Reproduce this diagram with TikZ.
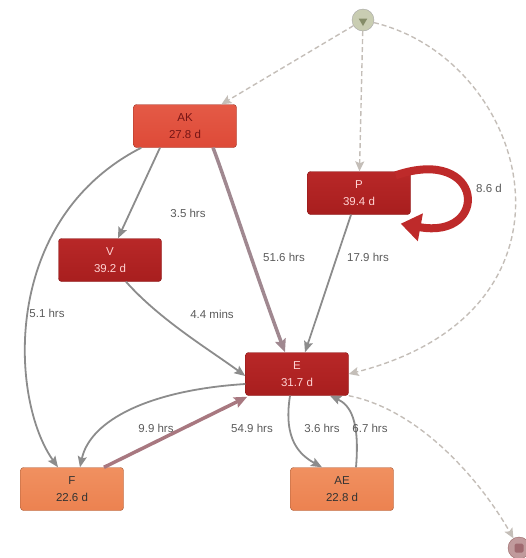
\documentclass[tikz,border=0pt]{standalone}
\usepackage{fontspec}
\setmainfont{Liberation Sans}
\usetikzlibrary{arrows.meta,calc,shapes.geometric}
\definecolor{darkred}{HTML}{A81E1E}
\definecolor{darkredtop}{HTML}{B82828}
\definecolor{akred}{HTML}{DE4A38}
\definecolor{akredtop}{HTML}{E45A46}
\definecolor{orangebox}{HTML}{EC8250}
\definecolor{orangetop}{HTML}{F09060}
\definecolor{edgegray}{HTML}{8C8C8C}
\definecolor{dashgray}{HTML}{C4BEB8}
\definecolor{lblgray}{HTML}{5A5A5A}
\definecolor{thickedge}{HTML}{A08890}
\definecolor{fedge}{HTML}{A87880}
\definecolor{loopred}{HTML}{BE2A2A}
\definecolor{startfill}{HTML}{C9CDB2}
\definecolor{starttri}{HTML}{858C68}
\definecolor{endfill}{HTML}{C09A9C}
\definecolor{endsq}{HTML}{A06A70}
\tikzset{
  box/.style={rounded corners=3pt, minimum width=103pt, minimum height=43pt, align=center,
    font=\fontsize{11.5}{17}\selectfont, inner sep=0pt},
  redbox/.style={box, draw=darkred!80!black, top color=darkredtop, bottom color=darkred, text=pink!70!white},
  akbox/.style={box, draw=akred!70!black, top color=akredtop, bottom color=akred, text=darkred!70!black},
  orbox/.style={box, draw=orangebox!70!black, top color=orangetop, bottom color=orangebox, text=black!80},
  edge/.style={draw=edgegray, line width=1.8pt, -{Stealth[length=11pt,width=9pt,inset=2pt]}},
  thick edge/.style={draw=thickedge, line width=3.5pt, -{Stealth[length=13pt,width=11pt,inset=2pt]}},
  dashedge/.style={draw=dashgray, line width=1.4pt, dash pattern=on 5pt off 3pt, -{Stealth[length=10pt,width=9pt,inset=2pt]}},
  lbl/.style={text=lblgray, font=\fontsize{11.5}{13}\selectfont, inner sep=1pt},
}
\begin{document}
\begin{tikzpicture}[x=1pt,y=-1pt]
\useasboundingbox (0,0) rectangle (526,558);
% start / end
\node[circle, draw=gray!70, fill=startfill, minimum size=22pt, inner sep=0pt] (S) at (363,20) {};
\node[regular polygon, regular polygon sides=3, shape border rotate=180, fill=starttri, inner sep=0pt, minimum size=10pt] (Stri) at (363,21) {};
\node[circle, draw=gray!80!red, fill=endfill, minimum size=22pt, inner sep=0pt] (End) at (519,548) {};
\node[rounded corners=1.5pt, fill=endsq, minimum size=9pt, inner sep=0pt] (Endsq) at (519,548) {};
% boxes
\node[akbox] (AK) at (185,126) {AK\\27.8 d};
\node[redbox] (P) at (359,193) {P\\39.4 d};
\node[redbox] (V) at (110,260) {V\\39.2 d};
\node[redbox] (E) at (297,374) {E\\31.7 d};
\node[orbox] (F) at (72,489) {F\\22.6 d};
\node[orbox] (AE) at (342,489) {AE\\22.8 d};
% dashed edges
\draw[dashedge] (S) -- (AK);
\draw[dashedge] (S) -- (P);
\draw[dashedge] (S) .. controls (530,60) and (600,310) .. (E.east);
\draw[dashedge] (E.south east) .. controls (420,410) and (480,480) .. (End);
% solid edges
\draw[edge] ($(AK.south)+(-25,0)$) -- ($(V.north)+(8,0)$);
\draw[edge] ($(AK.south west)+(8,0)$) .. controls (0,220) and (10,400) .. ($(F.north)+(-14,0)$);
\draw[thick edge] ($(AK.south)+(28,0)$) .. controls (222,170) and (258,280) .. ($(E.north)+(-12,0)$);
\draw[edge] ($(P.south)+(-8,0)$) -- ($(E.north)+(8,0)$);
\draw[edge] ($(V.south)+(16,0)$) .. controls (160,320) and (210,350) .. ($(E.west)+(0,2)$);
\draw[edge] ($(E.west)+(0,10)$) .. controls (150,390) and (90,420) .. ($(F.north)+(8,0)$);
\draw[draw=fedge, line width=3.5pt, -{Stealth[length=13pt,width=11pt,inset=2pt]}] ($(F.north)+(32,0)$) -- ($(E.south west)+(2,1)$);
\draw[edge] ($(E.south)+(-7,0)$) .. controls (283,440) and (300,455) .. ($(AE.north)+(-20,0)$);
\draw[edge] ($(AE.north)+(14,0)$) .. controls (360,420) and (350,405) .. ($(E.south)+(33,0)$);
% self loop
\coordinate (loopend) at ($(P.south east)+(-10,9)$);
\draw[draw=loopred, line width=8pt, -{Triangle[length=20pt,width=27pt]}] ($(P.north east)+(-15,4)$) .. controls (485,145) and (490,240) .. (loopend);
% labels
\node[lbl] (l1) at (188,213) {3.5 hrs};
\node[lbl] (l2) at (47,313) {5.1 hrs};
\node[lbl] (l3) at (284,257) {51.6 hrs};
\node[lbl] (l4) at (368,257) {17.9 hrs};
\node[lbl] (l5) at (212,314) {4.4 mins};
\node[lbl] (l6) at (156,428) {9.9 hrs};
\node[lbl] (l7) at (252,428) {54.9 hrs};
\node[lbl] (l8) at (322,428) {3.6 hrs};
\node[lbl] (l9) at (370,428) {6.7 hrs};
\node[lbl] (l10) at (489,188) {8.6 d};
\end{tikzpicture}
\end{document}
